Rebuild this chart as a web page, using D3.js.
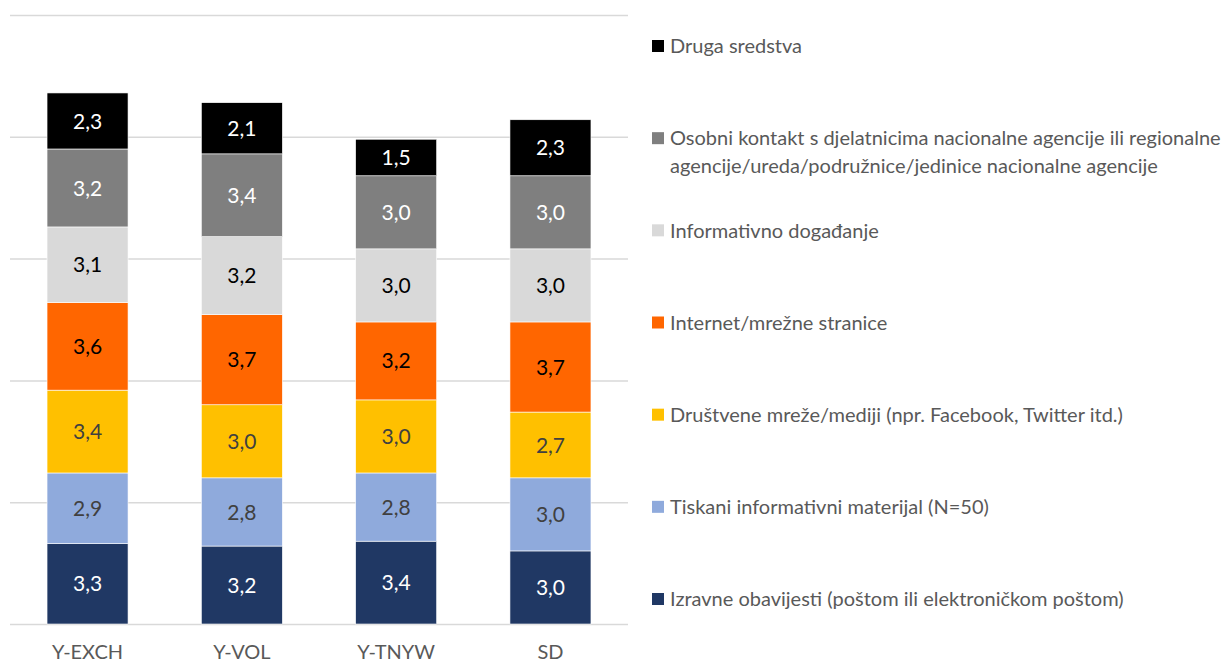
<!DOCTYPE html>
<html>
<head>
<meta charset="utf-8">
<script src="https://cdn.jsdelivr.net/npm/d3@7"></script>
<style>
  body { margin: 0; background: #fff; }
  svg { display: block; }
</style>
</head>
<body>
<div id="chart"></div>
<script>
// ── Data
const categories = ['Y-EXCH', 'Y-VOL', 'Y-TNYW', 'SD'];

// bottom → top stacking order
const seriesNames = [
  'Izravne obavijesti (poštom ili elektroničkom poštom)',
  'Tiskani informativni materijal (N=50)',
  'Društvene mreže/mediji (npr. Facebook, Twitter itd.)',
  'Internet/mrežne stranice',
  'Informativno događanje',
  'Osobni kontakt s djelatnicima nacionalne agencije ili regionalne agencije/ureda/podružnice/jedinice nacionalne agencije',
  'Druga sredstva'
];

const izravne     = [3.3, 3.2, 3.4, 3.0];
const tiskani     = [2.9, 2.8, 2.8, 3.0];
const drustvene   = [3.4, 3.0, 3.0, 2.7];
const internet    = [3.6, 3.7, 3.2, 3.7];
const informativno= [3.1, 3.2, 3.0, 3.0];
const osobni      = [3.2, 3.4, 3.0, 3.0];
const druga       = [2.3, 2.1, 1.5, 2.3];

const seriesValues = [izravne, tiskani, drustvene, internet, informativno, osobni, druga];
const yTicks = [0, 5, 10, 15, 20, 25];

// legend text lines (long item wraps)
const legendLines = [
  ['Izravne obavijesti (poštom ili elektroničkom poštom)'],
  ['Tiskani informativni materijal (N=50)'],
  ['Društvene mreže/mediji (npr. Facebook, Twitter itd.)'],
  ['Internet/mrežne stranice'],
  ['Informativno događanje'],
  ['Osobni kontakt s djelatnicima nacionalne agencije ili regionalne', 'agencije/ureda/podružnice/jedinice nacionalne agencije'],
  ['Druga sredstva']
];

// ── Styles
const COLORS = ['#203864', '#8FAADC', '#FFC000', '#FF6600', '#D9D9D9', '#7F7F7F', '#000000'];
const LABEL_COLORS = ['#ffffff', '#404040', '#404040', '#000000', '#000000', '#ffffff', '#ffffff'];
const FONT = 'Lato, "Open Sans", Arial, sans-serif';

const W = 1223, H = 665;
const plot = { left: 10, right: 628, top: 15, bottom: 624 };

const svg = d3.select('#chart').append('svg')
  .attr('width', W).attr('height', H);

const x = d3.scaleBand()
  .domain(categories)
  .range([plot.left, plot.right])
  .paddingInner(0.475)
  .paddingOuter(0.24);

const y = d3.scaleLinear()
  .domain([0, 25])
  .range([plot.bottom, plot.top]);

// gridlines
svg.append('g')
  .selectAll('line')
  .data(yTicks)
  .enter().append('line')
  .attr('x1', plot.left).attr('x2', plot.right)
  .attr('y1', d => y(d) + 0.5).attr('y2', d => y(d) + 0.5)
  .attr('stroke', '#d9d9d9')
  .attr('stroke-width', 1.5);

// stack
const rows = categories.map((c, i) => {
  const r = { cat: c };
  seriesValues.forEach((s, k) => { r['s' + k] = s[i]; });
  return r;
});
const stack = d3.stack().keys(seriesValues.map((s, k) => 's' + k));
const stacked = stack(rows);

const layers = svg.append('g')
  .selectAll('g')
  .data(stacked)
  .enter().append('g')
  .attr('fill', (d, k) => COLORS[k]);

layers.selectAll('rect')
  .data(d => d)
  .enter().append('rect')
  .attr('x', d => x(d.data.cat))
  .attr('width', x.bandwidth())
  .attr('y', d => y(d[1]))
  .attr('height', d => y(d[0]) - y(d[1]))
  .attr('stroke', '#ffffff')
  .attr('stroke-width', 0.6);

// data labels
layers.each(function (layer, k) {
  d3.select(this).selectAll('text')
    .data(layer)
    .enter().append('text')
    .attr('x', d => x(d.data.cat) + x.bandwidth() / 2)
    .attr('y', d => (y(d[0]) + y(d[1])) / 2)
    .attr('dy', '0.36em')
    .attr('text-anchor', 'middle')
    .attr('fill', LABEL_COLORS[k])
    .attr('font-family', FONT)
    .attr('font-size', '21px')
    .text(d => d3.format('.1f')(d[1] - d[0]).replace('.', ','));
});

// x axis labels
svg.append('g')
  .selectAll('text')
  .data(categories)
  .enter().append('text')
  .attr('x', d => x(d) + x.bandwidth() / 2)
  .attr('y', 652)
  .attr('dy', '0.36em')
  .attr('text-anchor', 'middle')
  .attr('fill', '#595959')
  .attr('font-family', FONT)
  .attr('font-size', '20px')
  .text(d => d);

// legend (top → bottom is reverse stack order)
const legendY = d3.scaleLinear().domain([6, 0]).range([46, 599]);
const leg = svg.append('g')
  .selectAll('g')
  .data(d3.range(seriesNames.length))
  .enter().append('g')
  .attr('transform', k => `translate(652,${legendY(k)})`);

leg.append('rect')
  .attr('x', 0).attr('y', -6)
  .attr('width', 12).attr('height', 12)
  .attr('fill', k => COLORS[k]);

leg.each(function (k) {
  d3.select(this).selectAll('text')
    .data(legendLines[k])
    .enter().append('text')
    .attr('x', 18)
    .attr('y', (d, i) => i * 28)
    .attr('dy', '0.36em')
    .attr('fill', '#595959')
    .attr('font-family', FONT)
    .attr('font-size', '20px')
    .text(d => d);
});
</script>
</body>
</html>
